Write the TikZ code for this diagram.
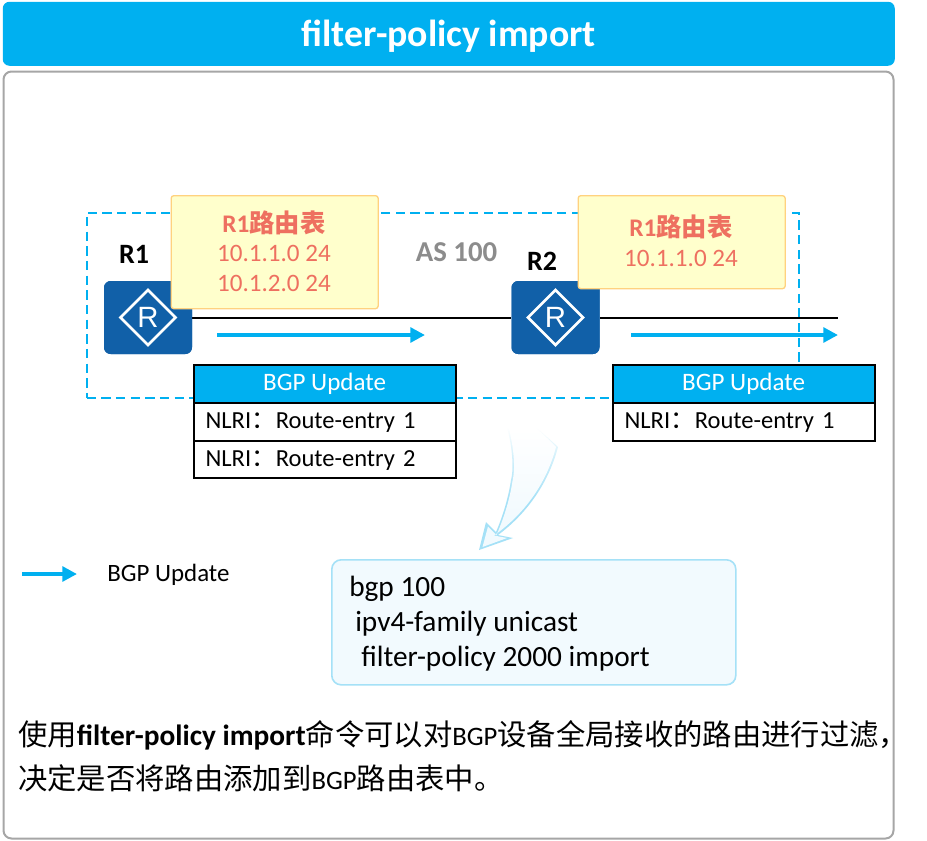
\documentclass[tikz,border=0pt]{standalone}
\usepackage{fontspec}
\setmainfont{Carlito}
\newfontfamily\cjk{Noto Sans CJK SC}
\newfontfamily\liberation{Liberation Sans}
\usetikzlibrary{arrows.meta,shapes.geometric}
\definecolor{skyb}{HTML}{00B0F0}
\definecolor{panelgray}{HTML}{A6A6A6}
\definecolor{salmon}{HTML}{EE7060}
\definecolor{yfill}{HTML}{FFFFCC}
\definecolor{yline}{HTML}{FFD27F}
\definecolor{rblue}{HTML}{1160A8}
\definecolor{cfgline}{HTML}{A5E1F7}
\definecolor{cfgmid}{HTML}{D2F0FB}
\definecolor{cfgfill}{HTML}{F2FAFE}
\newcommand{\fs}[1]{\fontsize{#1}{#1}\selectfont}
\pgfdeclareverticalshading{outerfade}{100bp}{color(0bp)=(cfgline); color(42bp)=(cfgline); color(56bp)=(cfgmid); color(66bp)=(white); color(100bp)=(white)}
\pgfdeclareverticalshading{innerfade}{100bp}{color(0bp)=(cfgfill); color(35bp)=(cfgfill); color(65bp)=(white); color(100bp)=(white)}
\tikzset{
  pnl/.style={draw=panelgray,line width=1.5pt,rounded corners=6pt,fill=white,minimum width=890*.75pt,minimum height=767*.75pt,anchor=north west,inner sep=0pt},
  titlebox/.style={fill=skyb,rounded corners=5pt,minimum width=892*.75pt,minimum height=64*.75pt,anchor=north west,inner sep=0pt,text=white,font=\bfseries\fs{28.3},text height=19pt,text depth=0pt},
  routebox/.style={fill=yfill,draw=yline,line width=1pt,rounded corners=2pt,anchor=north west,inner sep=0pt,minimum width=207*.75pt,text=salmon,align=center},
  router/.style={fill=rblue,rounded corners=5pt,minimum width=88*.75pt,minimum height=73*.75pt,inner sep=0pt},
  rlabel/.style={font=\bfseries\fs{21}},
  hdr/.style={draw=black,line width=1.6pt,fill=skyb,text=white,minimum width=262*.75pt,minimum height=38*.75pt,inner sep=0pt,anchor=north west,font=\fs{18.8}},
  row/.style={draw=black,line width=1.6pt,fill=white,minimum width=262*.75pt,minimum height=37.5*.75pt,inner sep=0pt,anchor=north west,text width=238*.75pt,align=left,font=\fs{18.4},text height=10.5pt,text depth=0pt},
  upd/.style={draw=skyb,line width=3pt,-{Triangle[length=11pt,width=11pt]}},
  diam/.style={diamond,draw=white,line width=2pt,minimum width=56*.75pt,minimum height=56*.75pt,inner sep=0pt,text=white,font=\liberation\fs{22}},
  salmontext/.style={text=salmon,font=\fs{18.8}},
  salmonhead/.style={text=salmon,font=\bfseries\fs{19}},
  cfgtext/.style={anchor=west,inner sep=0pt,font=\fs{22}},
  notetext/.style={anchor=west,inner sep=0pt,font=\cjk\fs{22}},
}
\begin{document}
\begin{tikzpicture}[x=.75pt,y=-.75pt]
\useasboundingbox (0,0) rectangle (927,840);
\node[titlebox] (title) at (2.5,1.5) {filter-policy import};
\node[pnl] (panel) at (2.5,70.5) {};
% AS region
\node[draw=skyb,dash pattern=on 7pt off 4pt,line width=1.5pt,minimum width=712*.75pt,minimum height=185*.75pt,anchor=north west,inner sep=0pt] (as) at (85.5,211.5) {};
\node[font=\bfseries\fs{21.6},text=gray!90] (aslabel) at (456.5,252.5) {AS 100};
\coordinate (lineend) at (838,317.5);
\node[router] (r1) at (148,317.5) {};
\node[router] (r2) at (555.5,317.5) {};
\draw[black,line width=1.5pt] (r1) -- (r2) -- (lineend);
\node[router] (r1b) at (148,317.5) {};
\node[router] (r2b) at (555.5,317.5) {};
\node[diam] (d1) at (r1b) {R};
\node[diam] (d2) at (r2b) {R};
\node[rlabel] (l1) at (134,254) {R1};
\node[rlabel] (l2) at (542,261) {R2};
% routing tables
\node[routebox,minimum height=113*.75pt] (t1) at (170.5,195) {};
\node[salmonhead] (t1a) at (274,223) {R1{\cjk 路由表}};
\node[salmontext] (t1b) at (274,253) {10.1.1.0 24};
\node[salmontext] (t1c) at (274,283) {10.1.2.0 24};
\node[routebox,minimum height=93*.75pt] (t2) at (577.5,195) {};
\node[salmonhead] (t2a) at (681,227) {R1{\cjk 路由表}};
\node[salmontext] (t2b) at (681,258) {10.1.1.0 24};
% update arrows
\coordinate (a1s) at (217,335); \coordinate (a1e) at (425,335);
\coordinate (a2s) at (631,335); \coordinate (a2e) at (838,335);
\coordinate (a3s) at (22,574); \coordinate (a3e) at (77,574);
\draw[upd] (a1s) -- (a1e);
\draw[upd] (a2s) -- (a2e);
\draw[upd] (a3s) -- (a3e);
\node[font=\fs{18.7},anchor=west,inner sep=0pt] (leg) at (107,575) {BGP Update};
% update tables
\node[hdr] (h1) at (192.5,364) {BGP Update};
\node[row] (h1a) at (192.5,402) {NLRI{\cjk ：}Route-entry 1};
\node[row] (h1b) at (192.5,439.5) {NLRI{\cjk ：}Route-entry 2};
\node[hdr] (h2) at (611.5,364) {BGP Update};
\node[row] (h2a) at (611.5,402) {NLRI{\cjk ：}Route-entry 1};
% curved callout arrow
\shade[shading=outerfade]
  (498,400) .. controls (511,430) and (515,465) .. (511,480)
  .. controls (508,500) and (502,518) .. (496,532)
  -- (486,522) -- (479,550) -- (513,538) -- (498,535)
  .. controls (525,515) and (548,485) .. (558,447)
  .. controls (540,430) and (515,410) .. (498,400) -- cycle;
\shade[shading=innerfade]
  (499,400) .. controls (513,432) and (516.5,465) .. (512.5,481)
  .. controls (509.5,501) and (503,520) .. (496.5,535)
  -- (488,526.5) -- (482.5,547) -- (507,538) -- (494,535.5)
  .. controls (523,515) and (546,485) .. (556,447)
  .. controls (540,430) and (515,410) .. (499,400) -- cycle;
% config
\node[draw=cfgline,fill=cfgfill,line width=1.2pt,rounded corners=7pt,minimum width=404*.75pt,minimum height=125*.75pt,anchor=north west,inner sep=0pt] (cfg) at (331,559) {};
\node[cfgtext] (c1) at (349,588.5) {bgp 100};
\node[cfgtext] (c2) at (355,624) {ipv4-family unicast};
\node[cfgtext] (c3) at (361,658.5) {filter-policy 2000 import};
% note
\node[notetext] (n1) at (18,735) {使用{\normalfont\bfseries filter-policy import}命令可以对{\normalfont\fs{20}BGP}设备全局接收的路由进行过滤，};
\node[notetext] (n2) at (18,778) {决定是否将路由添加到{\normalfont\fs{20}BGP}路由表中。};
\end{tikzpicture}
\end{document}
